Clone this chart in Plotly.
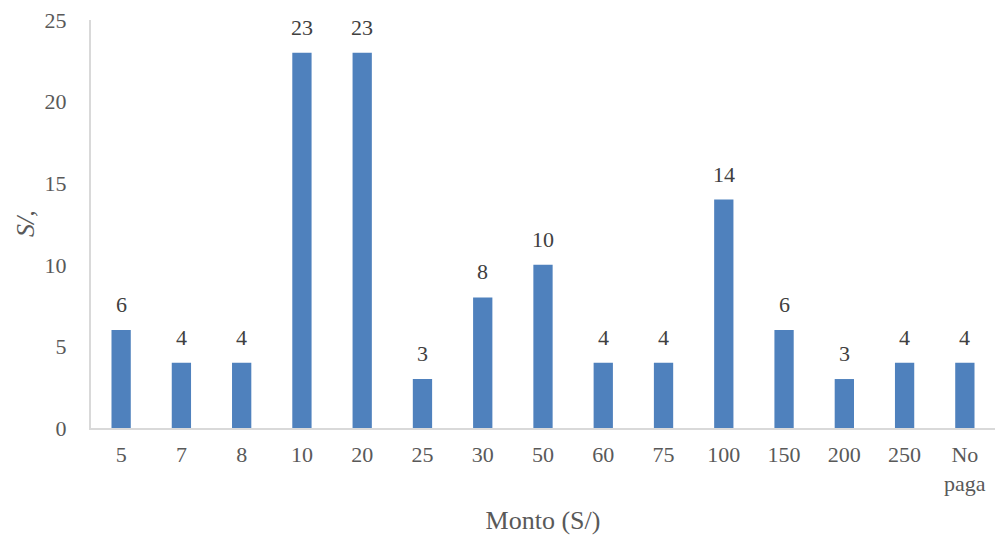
import plotly.graph_objects as go

# Monto pagado (S/) y cantidad de respuestas
categorias = ["5", "7", "8", "10", "20", "25", "30", "50", "60", "75",
              "100", "150", "200", "250", "No<br>paga"]
valores = [6, 4, 4, 23, 23, 3, 8, 10, 4, 4, 14, 6, 3, 4, 4]
y_ticks = [0, 5, 10, 15, 20, 25]

FONT = "'Liberation Serif', 'Times New Roman', serif"
BAR_COLOR = "#4F81BD"
AXIS_COLOR = "#D9D9D9"
TICK_COLOR = "#595959"
LABEL_COLOR = "#404040"

fig = go.Figure(
    go.Bar(
        x=categorias,
        y=valores,
        marker=dict(color=BAR_COLOR, line=dict(width=0)),
        width=0.32,
        hoverinfo="x+y",
    )
)

# data labels above each bar (category index keeps numeric names from being read as values)
for i, val in enumerate(valores):
    fig.add_annotation(
        x=i, y=val, text=str(val), showarrow=False,
        yanchor="bottom", yshift=11,
        font=dict(family=FONT, size=22, color=LABEL_COLOR),
    )

# vertical axis title, placed to the left of the tick labels
fig.add_annotation(
    xref="paper", yref="paper", x=0, y=0.5,
    xanchor="center", yanchor="middle",
    xshift=-66, textangle=-90, showarrow=False,
    text="<i>S/,</i>",
    font=dict(family=FONT, size=26, color=TICK_COLOR),
)

fig.update_layout(
    width=995, height=537,
    margin=dict(l=91, r=0, t=20, b=109),
    paper_bgcolor="white", plot_bgcolor="white",
    font=dict(family=FONT, size=22, color=TICK_COLOR),
    showlegend=False,
    xaxis=dict(
        type="category",
        range=[-0.5, len(categorias) - 0.5],
        title=dict(text="Monto (S/)", font=dict(family=FONT, size=26, color=TICK_COLOR), standoff=16),
        showline=True, linecolor=AXIS_COLOR, linewidth=2,
        ticks="", showgrid=False, ticklabelstandoff=6,
        tickfont=dict(family=FONT, size=22, color=TICK_COLOR),
    ),
    yaxis=dict(
        range=[0, 25], tickvals=y_ticks,
        showline=True, linecolor=AXIS_COLOR, linewidth=2,
        ticks="", showgrid=False, zeroline=False, ticklabelstandoff=18,
        tickfont=dict(family=FONT, size=22, color=TICK_COLOR),
    ),
)

fig.write_html("out.html")
